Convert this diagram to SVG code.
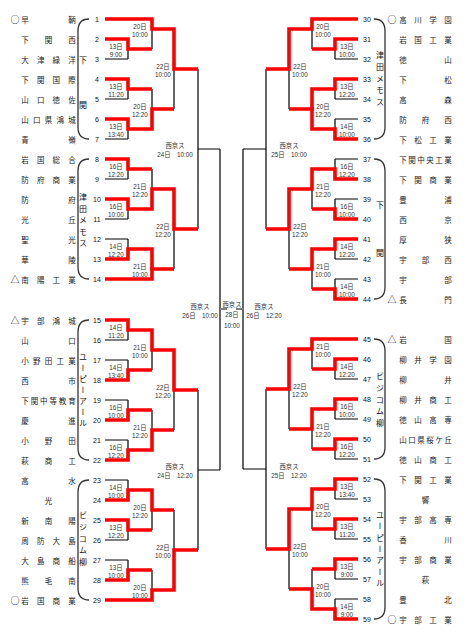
<svg xmlns="http://www.w3.org/2000/svg" width="475" height="633" viewBox="0 0 475 633">
<style>
.blk{fill:none;stroke:#000;stroke-width:1.2}
.red{fill:none;stroke:#ff0000;stroke-width:3.6;stroke-linejoin:miter;stroke-linecap:butt}
.gry{fill:none;stroke:#808080;stroke-width:2}
.br{fill:none;stroke:#333;stroke-width:1.3}
.nm{font-family:"Noto Sans CJK JP",sans-serif;font-size:7.5px;fill:#1a1a1a;text-anchor:middle;dominant-baseline:central}
.num{font-family:"Liberation Sans",sans-serif;font-size:7px;fill:#111;text-anchor:middle;dominant-baseline:central}
.lb{font-family:"Liberation Sans","Noto Sans CJK JP",sans-serif;font-size:6.3px;fill:#333;text-anchor:middle;dominant-baseline:central}
.vt{font-family:"Noto Sans CJK JP",sans-serif;font-size:8px;fill:#111;writing-mode:vertical-rl}
.mk{font-family:"Noto Sans CJK JP",sans-serif;font-size:9px;fill:#111;text-anchor:middle;dominant-baseline:central}
</style>
<rect width="475" height="633" fill="#fff"/>

<g id="connectors">
<path class="blk" d="M105,19H152M105,39H128M105,59H128M105,79H128M105,99H128M105,119H128M105,139H128M105,159H128M105,179H128M105,199H128M105,219H128M105,239H128M105,259H128M105,279H152M105,320H128M105,340H128M105,360H128M105,380H128M105,400H128M105,420H128M105,440H128M105,460H128M105,480H128M105,500H128M105,520H128M105,540H128M105,560H128M105,580H128M105,600H152"/>
<path class="blk" d="M128,39V59M128,79V99M128,119V139M128,159V179M128,199V219M128,239V259M128,320V340M128,360V380M128,400V420M128,440V460M128,480V500M128,520V540M128,560V580"/>
<path class="blk" d="M128,49H152M128,89H152M128,129H152M128,169H152M128,209H152M128,249H152M128,330H152M128,370H152M128,410H152M128,450H152M128,490H152M128,530H152M128,570H152"/>
<path class="blk" d="M152,19V49M152,89V129M152,169V209M152,249V279M152,330V370M152,410V450M152,490V530M152,570V600"/>
<path class="blk" d="M152,29H174M152,109H174M152,189H174M152,269H174M152,350H174M152,430H174M152,510H174M152,590H174"/>
<path class="blk" d="M174,29V109M174,189V269M174,350V430M174,510V590M174,69H198M174,229H198M174,390H198M174,550H198"/>
<path class="blk" d="M198,69V229M198,390V550M198,149H220M198,470H220M220,149V470"/>

<path class="blk" d="M358,19H312M358,39H335M358,59H335M358,79H335M358,99H335M358,119H335M358,139H335M358,159H335M358,179H335M358,199H335M358,219H335M358,239H335M358,259H335M358,279H335M358,299H335M358,339H312M358,359H335M358,379H335M358,399H335M358,419H335M358,439H335M358,459H335M358,479H335M358,499H335M358,519H335M358,539H335M358,559H335M358,579H335M358,599H335M358,619H335"/>
<path class="blk" d="M335,39V59M335,79V99M335,119V139M335,159V179M335,199V219M335,239V259M335,279V299M335,359V379M335,399V419M335,439V459M335,479V499M335,519V539M335,559V579M335,599V619"/>
<path class="blk" d="M335,49H312M335,89H312M335,129H312M335,169H312M335,209H312M335,249H312M335,289H312M335,369H312M335,409H312M335,449H312M335,489H312M335,529H312M335,569H312M335,609H312"/>
<path class="blk" d="M312,19V49M312,89V129M312,169V209M312,249V289M312,339V369M312,409V449M312,489V529M312,569V609"/>
<path class="blk" d="M312,29H289M312,109H289M312,189H289M312,269H289M312,349H289M312,429H289M312,509H289M312,589H289"/>
<path class="blk" d="M289,29V109M289,189V269M289,349V429M289,509V589M289,69H266M289,229H266M289,389H266M289,549H266"/>
<path class="blk" d="M266,69V229M266,389V549M266,149H243M266,469H243M243,149V469"/>

<path class="gry" d="M220,309H227M236,309H243"/>

<path class="red" d="M105,19H152V29H174V69H198"/>
<path class="red" d="M105,39H128V49H152"/>
<path class="red" d="M105,79H128V89H152"/>
<path class="red" d="M105,119H128V129H152V109H174"/>
<path class="red" d="M105,159H128V169H152"/>
<path class="red" d="M105,199H128V209H152V189H174V229H198"/>
<path class="red" d="M105,259H128V249H152V269H174"/>
<path class="red" d="M105,279H152V267"/>
<path class="red" d="M105,320H128V330H152V350H174V390H198"/>
<path class="red" d="M105,380H128V370H152"/>
<path class="red" d="M105,420H128V410H152"/>
<path class="red" d="M105,460H128V450H152V430H174"/>
<path class="red" d="M105,500H128V490H152V510H174"/>
<path class="red" d="M105,520H128V530H152"/>
<path class="red" d="M105,580H128V570H152"/>
<path class="red" d="M105,600H152V590H174V550H198"/>

<path class="red" d="M358,19H312V29H289V69H266"/>
<path class="red" d="M358,39H335V49H312"/>
<path class="red" d="M358,79H335V89H312V109H289"/>
<path class="red" d="M358,139H335V129H312V107"/>
<path class="red" d="M358,179H335V169H312V189H289V229H266"/>
<path class="red" d="M358,219H335V209H312"/>
<path class="red" d="M358,239H335V249H312V269H289"/>
<path class="red" d="M358,299H335V289H312"/>
<path class="red" d="M358,339H312V349H289V389H266"/>
<path class="red" d="M358,359H335V369H312"/>
<path class="red" d="M358,399H335V409H312V429H289"/>
<path class="red" d="M358,439H335V449H312"/>
<path class="red" d="M358,479H335V489H312V509H289V549H266"/>
<path class="red" d="M358,519H335V529H312"/>
<path class="red" d="M358,559H335V569H312"/>
<path class="red" d="M358,619H335V609H312V589H289"/>
</g>

<g id="braces">
<path class="br" d="M89,19C81,19 78,23 78,31V127C78,135 81,139 89,139"/>
<path class="br" d="M89,159C81,159 78,163 78,171V267C78,275 81,279 89,279"/>
<path class="br" d="M89,320C81,320 78,324 78,332V448C78,456 81,460 89,460"/>
<path class="br" d="M89,480C81,480 78,484 78,492V588C78,596 81,600 89,600"/>
<path class="br" d="M374,19C382,19 385,23 385,31V127C385,135 382,139 374,139"/>
<path class="br" d="M374,159C382,159 385,163 385,171V287C385,295 382,299 374,299"/>
<path class="br" d="M374,339C382,339 385,343 385,351V447C385,455 382,459 374,459"/>
<path class="br" d="M374,479C382,479 385,483 385,491V607C385,615 382,619 374,619"/>
<text class="vt" x="83" y="56" style="letter-spacing:37px">下関</text>
<text class="vt" x="83" y="193" style="letter-spacing:3.5px">津田メモス</text>
<text class="vt" x="83" y="353" style="letter-spacing:3px">ユーピーアール</text>
<text class="vt" x="83" y="511" style="letter-spacing:3.75px">ビジコム柳</text>
<text class="vt" x="380" y="51" style="letter-spacing:3.75px">津田メモス</text>
<text class="vt" x="380" y="201" style="letter-spacing:40px">下関</text>
<text class="vt" x="380" y="372" style="letter-spacing:3.75px">ビジコム柳</text>
<text class="vt" x="380" y="511" style="letter-spacing:3.3px">ユーピーアール</text>
</g>

<g id="numbers">
<text class="num" x="97" y="19">1</text><text class="num" x="97" y="39">2</text><text class="num" x="97" y="59">3</text><text class="num" x="97" y="79">4</text><text class="num" x="97" y="99">5</text><text class="num" x="97" y="119">6</text><text class="num" x="97" y="139">7</text>
<text class="num" x="97" y="159">8</text><text class="num" x="97" y="179">9</text><text class="num" x="97" y="199">10</text><text class="num" x="97" y="219">11</text><text class="num" x="97" y="239">12</text><text class="num" x="97" y="259">13</text><text class="num" x="97" y="279">14</text>
<text class="num" x="97" y="320">15</text><text class="num" x="97" y="340">16</text><text class="num" x="97" y="360">17</text><text class="num" x="97" y="380">18</text><text class="num" x="97" y="400">19</text><text class="num" x="97" y="420">20</text><text class="num" x="97" y="440">21</text><text class="num" x="97" y="460">22</text>
<text class="num" x="97" y="480">23</text><text class="num" x="97" y="500">24</text><text class="num" x="97" y="520">25</text><text class="num" x="97" y="540">26</text><text class="num" x="97" y="560">27</text><text class="num" x="97" y="580">28</text><text class="num" x="97" y="600">29</text>
<text class="num" x="367" y="19">30</text><text class="num" x="367" y="39">31</text><text class="num" x="367" y="59">32</text><text class="num" x="367" y="79">33</text><text class="num" x="367" y="99">34</text><text class="num" x="367" y="119">35</text><text class="num" x="367" y="139">36</text>
<text class="num" x="367" y="159">37</text><text class="num" x="367" y="179">38</text><text class="num" x="367" y="199">39</text><text class="num" x="367" y="219">40</text><text class="num" x="367" y="239">41</text><text class="num" x="367" y="259">42</text><text class="num" x="367" y="279">43</text><text class="num" x="367" y="299">44</text>
<text class="num" x="367" y="339">45</text><text class="num" x="367" y="359">46</text><text class="num" x="367" y="379">47</text><text class="num" x="367" y="399">48</text><text class="num" x="367" y="419">49</text><text class="num" x="367" y="439">50</text><text class="num" x="367" y="459">51</text>
<text class="num" x="367" y="479">52</text><text class="num" x="367" y="499">53</text><text class="num" x="367" y="519">54</text><text class="num" x="367" y="539">55</text><text class="num" x="367" y="559">56</text><text class="num" x="367" y="579">57</text><text class="num" x="367" y="599">58</text><text class="num" x="367" y="619">59</text>
</g>

<g id="marks">
<text class="mk" x="15" y="19">○</text><text class="mk" x="15" y="279">△</text><text class="mk" x="15" y="320">△</text><text class="mk" x="15" y="600">○</text>
<text class="mk" x="392" y="19">○</text><text class="mk" x="392" y="299">△</text><text class="mk" x="392" y="339">△</text><text class="mk" x="392" y="619">○</text>
</g>

<g id="teams-left">
<text id="t1" class="nm" x="25 72" y="19">早鞆</text>
<text id="t2" class="nm" x="25 48.5 72" y="39">下関西</text>
<text id="t3" class="nm" x="25 40.7 56.3 72" y="59">大津緑洋</text>
<text id="t4" class="nm" x="25 40.7 56.3 72" y="79">下関国際</text>
<text id="t5" class="nm" x="25 40.7 56.3 72" y="99">山口徳佐</text>
<text id="t6" class="nm" x="25 36.75 48.5 60.25 72" y="119">山口県鴻城</text>
<text id="t7" class="nm" x="25 72" y="139">青嶺</text>
<text id="t8" class="nm" x="25 40.7 56.3 72" y="159">岩国総合</text>
<text id="t9" class="nm" x="25 40.7 56.3 72" y="179">防府商業</text>
<text id="t10" class="nm" x="25 72" y="199">防府</text>
<text id="t11" class="nm" x="25 72" y="219">光丘</text>
<text id="t12" class="nm" x="25 72" y="239">聖光</text>
<text id="t13" class="nm" x="25 72" y="259">華陵</text>
<text id="t14" class="nm" x="25 40.7 56.3 72" y="279">南陽工業</text>
<text id="t15" class="nm" x="25 40.7 56.3 72" y="320">宇部鴻城</text>
<text id="t16" class="nm" x="25 72" y="340">山口</text>
<text id="t17" class="nm" x="25 36.75 48.5 60.25 72" y="360">小野田工業</text>
<text id="t18" class="nm" x="25 72" y="380">西市</text>
<text id="t19" class="nm" x="25 34.4 43.8 53.2 62.6 72" y="400">下関中等教育</text>
<text id="t20" class="nm" x="25 72" y="420">慶進</text>
<text id="t21" class="nm" x="25 48.5 72" y="440">小野田</text>
<text id="t22" class="nm" x="25 48.5 72" y="460">萩商工</text>
<text id="t23" class="nm" x="25 72" y="480">高水</text>
<text id="t24" class="nm" x="48.5" y="500">光</text>
<text id="t25" class="nm" x="25 48.5 72" y="520">新南陽</text>
<text id="t26" class="nm" x="25 40.7 56.3 72" y="540">周防大島</text>
<text id="t27" class="nm" x="25 40.7 56.3 72" y="560">大島商船</text>
<text id="t28" class="nm" x="25 48.5 72" y="580">熊毛南</text>
<text id="t29" class="nm" x="25 40.7 56.3 72" y="600">岩国商業</text>
</g>

<g id="teams-right">
<text id="t30" class="nm" x="403 418 433 448" y="19">高川学園</text>
<text id="t31" class="nm" x="403 418 433 448" y="39">岩国工業</text>
<text id="t32" class="nm" x="403 448" y="59">徳山</text>
<text id="t33" class="nm" x="403 448" y="79">下松</text>
<text id="t34" class="nm" x="403 448" y="99">高森</text>
<text id="t35" class="nm" x="403 425.5 448" y="119">防府西</text>
<text id="t36" class="nm" x="403 418 433 448" y="139">下松工業</text>
<text id="t37" class="nm" x="403 412 421 430 439 448" y="159">下関中央工業</text>
<text id="t38" class="nm" x="403 418 433 448" y="179">下関商業</text>
<text id="t39" class="nm" x="403 448" y="199">豊浦</text>
<text id="t40" class="nm" x="403 448" y="219">西京</text>
<text id="t41" class="nm" x="403 448" y="239">厚狭</text>
<text id="t42" class="nm" x="403 425.5 448" y="259">宇部西</text>
<text id="t43" class="nm" x="403 448" y="279">宇部</text>
<text id="t44" class="nm" x="403 448" y="299">長門</text>
<text id="t45" class="nm" x="403 448" y="339">岩国</text>
<text id="t46" class="nm" x="403 418 433 448" y="359">柳井学園</text>
<text id="t47" class="nm" x="403 448" y="379">柳井</text>
<text id="t48" class="nm" x="403 418 433 448" y="399">柳井商工</text>
<text id="t49" class="nm" x="403 418 433 448" y="419">徳山高専</text>
<text id="t50" class="nm" x="403 412 421 430 439 448" y="439">山口県桜ケ丘</text>
<text id="t51" class="nm" x="403 418 433 448" y="459">徳山商工</text>
<text id="t52" class="nm" x="403 418 433 448" y="479">下関工業</text>
<text id="t53" class="nm" x="425.5" y="499">響</text>
<text id="t54" class="nm" x="403 418 433 448" y="519">宇部高専</text>
<text id="t55" class="nm" x="403 448" y="539">香川</text>
<text id="t56" class="nm" x="403 418 433 448" y="559">宇部商業</text>
<text id="t57" class="nm" x="425.5" y="579">萩</text>
<text id="t58" class="nm" x="403 448" y="599">豊北</text>
<text id="t59" class="nm" x="403 418 433 448" y="619">宇部工業</text>
</g>

<g id="match-labels">
<text class="lb" x="116" y="46">13日</text><text class="lb" x="116" y="54.5">9:00</text>
<text class="lb" x="116" y="86">13日</text><text class="lb" x="116" y="94.5">11:20</text>
<text class="lb" x="116" y="126">13日</text><text class="lb" x="116" y="134.5">13:40</text>
<text class="lb" x="116" y="166">16日</text><text class="lb" x="116" y="174.5">12:20</text>
<text class="lb" x="116" y="206">16日</text><text class="lb" x="116" y="214.5">10:00</text>
<text class="lb" x="116" y="246">14日</text><text class="lb" x="116" y="254.5">12:20</text>
<text class="lb" x="116" y="327">14日</text><text class="lb" x="116" y="335.5">11:20</text>
<text class="lb" x="116" y="367">14日</text><text class="lb" x="116" y="375.5">13:40</text>
<text class="lb" x="116" y="407">16日</text><text class="lb" x="116" y="415.5">10:00</text>
<text class="lb" x="116" y="447">16日</text><text class="lb" x="116" y="455.5">12:20</text>
<text class="lb" x="116" y="487">14日</text><text class="lb" x="116" y="495.5">10:00</text>
<text class="lb" x="116" y="527">13日</text><text class="lb" x="116" y="535.5">12:20</text>
<text class="lb" x="116" y="567">13日</text><text class="lb" x="116" y="575.5">10:00</text>

<text class="lb" x="140" y="26">20日</text><text class="lb" x="140" y="34">10:00</text>
<text class="lb" x="140" y="106">20日</text><text class="lb" x="140" y="114">12:20</text>
<text class="lb" x="140" y="186">21日</text><text class="lb" x="140" y="194">12:20</text>
<text class="lb" x="140" y="266">21日</text><text class="lb" x="140" y="274">10:00</text>
<text class="lb" x="140" y="347">21日</text><text class="lb" x="140" y="355">10:00</text>
<text class="lb" x="140" y="427">21日</text><text class="lb" x="140" y="435">12:20</text>
<text class="lb" x="140" y="507">20日</text><text class="lb" x="140" y="515">12:20</text>
<text class="lb" x="140" y="587">20日</text><text class="lb" x="140" y="595">10:00</text>

<text class="lb" x="163" y="66">22日</text><text class="lb" x="163" y="74">10:00</text>
<text class="lb" x="163" y="226">22日</text><text class="lb" x="163" y="234">12:20</text>
<text class="lb" x="163" y="387">22日</text><text class="lb" x="163" y="395">12:20</text>
<text class="lb" x="163" y="547">22日</text><text class="lb" x="163" y="555">10:00</text>

<text class="lb" x="175" y="145">西京ス</text><text class="lb" x="175" y="154">24日　10:00</text>
<text class="lb" x="175" y="466">西京ス</text><text class="lb" x="175" y="475">24日　12:20</text>
<text class="lb" x="200" y="306">西京ス</text><text class="lb" x="200" y="315">26日　10:00</text>
<text class="lb" x="232" y="304">西京ス</text><text class="lb" x="232" y="314.5">28日</text><text class="lb" x="232" y="325">10:00</text>
<text class="lb" x="264" y="306">西京ス</text><text class="lb" x="264" y="315">26日　12:20</text>
<text class="lb" x="289" y="145">西京ス</text><text class="lb" x="289" y="154">25日　10:00</text>
<text class="lb" x="289" y="466">西京ス</text><text class="lb" x="289" y="475">25日　12:20</text>

<text class="lb" x="300" y="66">22日</text><text class="lb" x="300" y="74">10:00</text>
<text class="lb" x="300" y="226">22日</text><text class="lb" x="300" y="234">12:20</text>
<text class="lb" x="300" y="386">22日</text><text class="lb" x="300" y="394">12:20</text>
<text class="lb" x="300" y="546">22日</text><text class="lb" x="300" y="554">10:00</text>

<text class="lb" x="323" y="26">20日</text><text class="lb" x="323" y="34">10:00</text>
<text class="lb" x="323" y="106">20日</text><text class="lb" x="323" y="114">12:20</text>
<text class="lb" x="323" y="186">21日</text><text class="lb" x="323" y="194">12:20</text>
<text class="lb" x="323" y="266">21日</text><text class="lb" x="323" y="274">10:00</text>
<text class="lb" x="323" y="346">21日</text><text class="lb" x="323" y="354">10:00</text>
<text class="lb" x="323" y="426">21日</text><text class="lb" x="323" y="434">12:20</text>
<text class="lb" x="323" y="506">20日</text><text class="lb" x="323" y="514">12:20</text>
<text class="lb" x="323" y="586">20日</text><text class="lb" x="323" y="594">10:00</text>

<text class="lb" x="347" y="46">13日</text><text class="lb" x="347" y="54.5">10:00</text>
<text class="lb" x="347" y="86">13日</text><text class="lb" x="347" y="94.5">12:20</text>
<text class="lb" x="347" y="126">14日</text><text class="lb" x="347" y="134.5">10:00</text>
<text class="lb" x="347" y="166">16日</text><text class="lb" x="347" y="174.5">12:20</text>
<text class="lb" x="347" y="206">16日</text><text class="lb" x="347" y="214.5">10:00</text>
<text class="lb" x="347" y="246">14日</text><text class="lb" x="347" y="254.5">12:20</text>
<text class="lb" x="347" y="286">14日</text><text class="lb" x="347" y="294.5">10:00</text>
<text class="lb" x="347" y="366">14日</text><text class="lb" x="347" y="374.5">12:20</text>
<text class="lb" x="347" y="406">16日</text><text class="lb" x="347" y="414.5">10:00</text>
<text class="lb" x="347" y="446">16日</text><text class="lb" x="347" y="454.5">12:20</text>
<text class="lb" x="347" y="486">13日</text><text class="lb" x="347" y="494.5">13:40</text>
<text class="lb" x="347" y="526">13日</text><text class="lb" x="347" y="534.5">11:20</text>
<text class="lb" x="347" y="566">13日</text><text class="lb" x="347" y="574.5">9:00</text>
<text class="lb" x="347" y="606">14日</text><text class="lb" x="347" y="614.5">9:00</text>
</g>
</svg>
